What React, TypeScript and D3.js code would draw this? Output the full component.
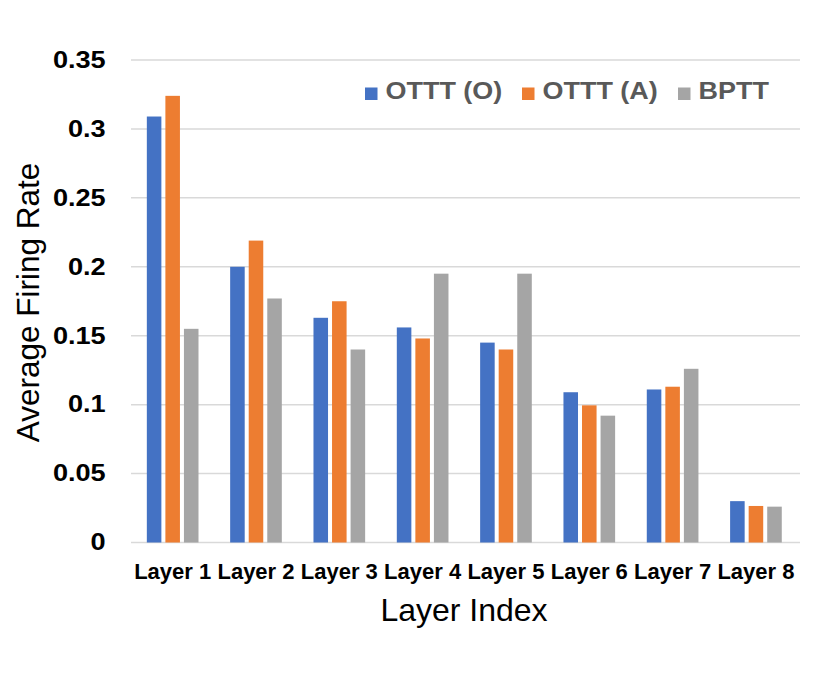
import * as d3 from "d3";

const layers = ["Layer 1", "Layer 2", "Layer 3", "Layer 4", "Layer 5", "Layer 6", "Layer 7", "Layer 8"];
const seriesNames = ["OTTT (O)", "OTTT (A)", "BPTT"];
const otttO = [0.309, 0.2, 0.163, 0.156, 0.145, 0.109, 0.111, 0.03];
const otttA = [0.324, 0.219, 0.175, 0.148, 0.14, 0.0995, 0.113, 0.0265];
const bptt = [0.155, 0.177, 0.14, 0.195, 0.195, 0.092, 0.126, 0.026];
const yTicks = [0, 0.05, 0.1, 0.15, 0.2, 0.25, 0.3, 0.35];

const colors = ["#4472C4", "#ED7D31", "#A5A5A5"];
const seriesValues = [otttO, otttA, bptt];

const W = 830;
const H = 675;
const plot = { left: 131, right: 797.6, top: 60, bottom: 542.5 };
const font = "'Liberation Sans', Arial, Helvetica, sans-serif";

export default function App() {
  const x = d3
    .scaleBand<string>()
    .domain(layers)
    .range([plot.left, plot.right])
    .paddingInner(0.38)
    .paddingOuter(0.19);

  const xs = d3
    .scaleBand<string>()
    .domain(seriesNames)
    .range([0, x.bandwidth()])
    .paddingInner(0.216);

  const y = d3.scaleLinear().domain([0, 0.35]).range([plot.bottom, plot.top]);

  // legend layout (left edge of each square, text starts after it)
  const legendX = [365, 522, 678];

  return (
    <svg
      width={W}
      height={H}
      style={{ position: "absolute", left: 0, top: 0, background: "#fff" }}
      fontFamily={font}
    >
      <rect width={W} height={H} fill="#fff" />

      {/* grid */}
      {yTicks.map((t) => (
        <line
          key={t}
          x1={plot.left}
          x2={800}
          y1={y(t)}
          y2={y(t)}
          stroke="#d9d9d9"
          strokeWidth={1.5}
        />
      ))}

      {/* bars */}
      {seriesNames.map((s, si) =>
        layers.map((l, li) => {
          const v = seriesValues[si][li];
          return (
            <rect
              key={s + l}
              x={(x(l) ?? 0) + (xs(s) ?? 0)}
              y={y(v)}
              width={xs.bandwidth()}
              height={y(0) - y(v)}
              fill={colors[si]}
            />
          );
        })
      )}

      {/* y tick labels */}
      {yTicks.map((t) => (
        <text
          key={t}
          transform={`translate(105.7,${y(t) + 7.8}) scale(1.18,1)`}
          textAnchor="end"
          fontSize={23}
          fontWeight="bold"
          fill="#000"
        >
          {d3.format("")(+t.toFixed(2))}
        </text>
      ))}

      {/* x tick labels */}
      {layers.map((l) => (
        <text
          key={l}
          x={(x(l) ?? 0) + x.bandwidth() / 2}
          y={578.5}
          textAnchor="middle"
          fontSize={22}
          fontWeight="bold"
          fill="#000"
        >
          {l}
        </text>
      ))}

      {/* axis titles */}
      <text
        transform="translate(38.5,302.5) rotate(-90)"
        textAnchor="middle"
        fontSize={31.5}
        fill="#000"
      >
        Average Firing Rate
      </text>
      <text x={464} y={621} textAnchor="middle" fontSize={32} fill="#000">
        Layer Index
      </text>

      {/* legend */}
      {seriesNames.map((s, i) => (
        <g key={s}>
          <rect x={legendX[i]} y={87.5} width={12.5} height={12.5} fill={colors[i]} />
          <text
            transform={`translate(${legendX[i] + 20.5},99.3) scale(1.1,1)`}
            fontSize={24.5}
            fontWeight="bold"
            fill="#595959"
          >
            {s}
          </text>
        </g>
      ))}
    </svg>
  );
}
